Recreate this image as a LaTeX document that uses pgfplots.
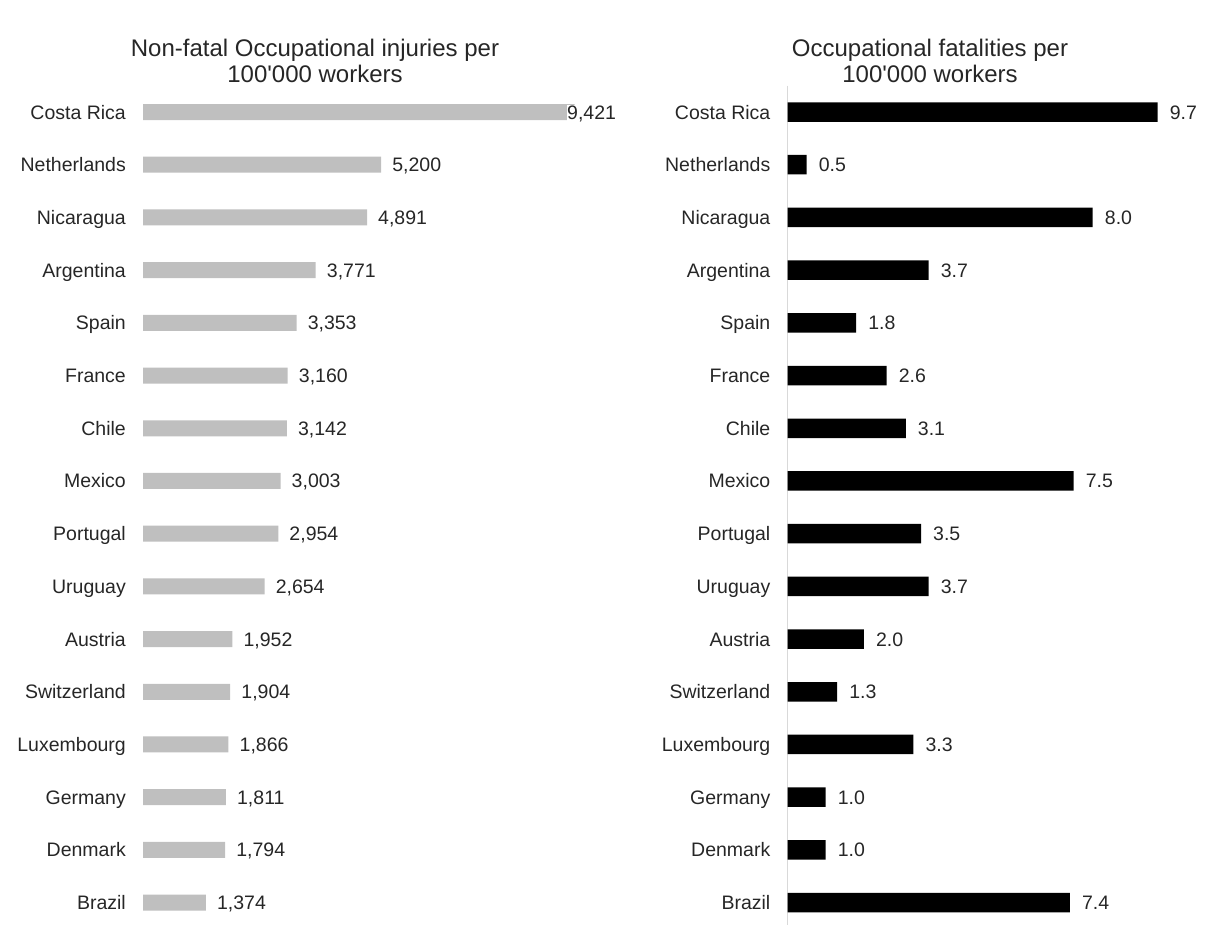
\documentclass[border=0pt]{standalone}
\usepackage{pgfplots}
\pgfplotsset{compat=1.18}
\usepackage{pgfplotstable}
\usepackage{fontspec}
\newfontfamily\arial{Liberation Sans}
\definecolor{bargray}{HTML}{BFBFBF}
\definecolor{txt}{HTML}{262626}
\definecolor{axgray}{HTML}{D9D9D9}
\newcommand\lbl{\arial\fontsize{19.5}{23}\selectfont}
\newcommand\ttl{\arial\fontsize{24}{26.5}\selectfont}

% position (0 = top), value, label offset
\pgfplotstableread{
pos value shift
0  9421 -7.5
1  5200 11
2  4891 11
3  3771 11
4  3353 11
5  3160 11
6  3142 11
7  3003 11
8  2954 11
9  2654 11
10 1952 11
11 1904 11
12 1866 11
13 1811 11
14 1794 11
15 1374 11
}\injuries

\pgfplotstableread{
pos value
0  9.7
1  0.5
2  8.0
3  3.7
4  1.8
5  2.6
6  3.1
7  7.5
8  3.5
9  3.7
10 2.0
11 1.3
12 3.3
13 1.0
14 1.0
15 7.4
}\fatalities

\pgfplotsset{
  countrybars/.style={
    scale only axis, clip=false,
    height=843.2pt,
    ymin=-0.5, ymax=15.5, y dir=reverse,
    enlargelimits=false,
    xbar, xtick=\empty,
    ytick={0,...,15},
    yticklabels={Costa Rica,Netherlands,Nicaragua,Argentina,Spain,France,Chile,Mexico,Portugal,Uruguay,Austria,Switzerland,Luxembourg,Germany,Denmark,Brazil},
    major tick length=0pt,
    yticklabel style={anchor=base east, inner sep=0pt, xshift=-17pt, yshift=-7pt,
      font=\lbl, text=txt},
    point meta=x,
    nodes near coords,
    /pgf/number format/assume math mode=true,
  },
}

\begin{document}
\begin{tikzpicture}
\useasboundingbox (0,0) rectangle (1207pt,925pt);

% non-fatal injuries
\begin{axis}[countrybars,
  at={(143pt,-3.9pt)}, anchor=south west,
  width=600pt, xmin=0, xmax=13100,
  axis line style={draw=none},
  bar width=16pt,
  visualization depends on={\thisrow{shift} \as \lshift},
  every node near coord/.append style={anchor=base west, inner sep=0pt,
    xshift=\lshift pt, yshift=-7pt, fill=white, font=\lbl, text=txt},
  nodes near coords style={/pgf/number format/.cd, fixed, precision=0, 1000 sep={,}},
]
\addplot[draw=none, fill=bargray] table[x=value, y=pos] {\injuries};
\end{axis}

% fatalities
\begin{axis}[countrybars,
  at={(787.5pt,-3.9pt)}, anchor=south west,
  width=400pt, xmin=0, xmax=10.485,
  axis x line=none, axis y line*=left,
  y axis line style={draw=axgray, line width=1pt},
  bar width=19.5pt,
  every node near coord/.append style={anchor=base west, inner sep=0pt,
    xshift=12pt, yshift=-7pt, font=\lbl, text=txt},
  nodes near coords style={/pgf/number format/.cd, fixed, fixed zerofill, precision=1},
]
\addplot[draw=none, fill=black] table[x=value, y=pos] {\fatalities};
\end{axis}

\node[align=center, font=\ttl, text=txt] at (315pt,864pt)
  {Non-fatal Occupational injuries per\\100'000 workers};
\node[align=center, font=\ttl, text=txt] at (930pt,864pt)
  {Occupational fatalities per\\100'000 workers};
\end{tikzpicture}
\end{document}
